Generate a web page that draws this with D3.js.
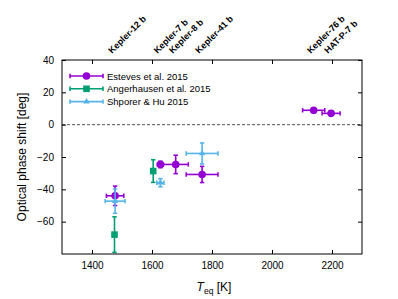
<!DOCTYPE html>
<html>
<head>
<meta charset="utf-8">
<script src="https://cdn.jsdelivr.net/npm/d3@7"></script>
<style>
  body { margin: 0; background: #fff; }
  text { font-family: "Liberation Sans", Arial, sans-serif; }
</style>
</head>
<body>
<script>
// planets named on the top axis
const planets = ["Kepler-12 b", "Kepler-7 b", "Kepler-8 b", "Kepler-41 b", "Kepler-76 b", "HAT-P-7 b"];
const planetTeq = [1477, 1628, 1679, 1767, 2139, 2197];

// Esteves et al. 2015
const estTeq = [1477, 1628, 1679, 1767, 2139, 2197];
const estTeqErr = [29, 10, 42, 53, 37, 30];
const estShift = [-44, -24.6, -24.6, -30.8, 8.9, 7.0];
const estShiftErr = [6, 2, 5.7, 5, 1.5, 1.5];

// Angerhausen et al. 2015
const angTeq = [1475, 1604];
const angTeqErr = [3, 3];
const angShift = [-68, -28.7];
const angShiftErr = [11, 7];

// Shporer & Hu 2015
const shpTeq = [1477, 1628, 1767];
const shpTeqErr = [33, 12, 53];
const shpShift = [-47.3, -35.9, -17.8];
const shpShiftErr = [7.5, 2.5, 6.5];

const xTicks = [1400, 1600, 1800, 2000, 2200];
const yTicks = [-60, -40, -20, 0, 20, 40];

const W = 398, H = 299;
const L = 62, R = 362, T = 60, B = 254;

const x = d3.scaleLinear().domain([1300, 2300]).range([L, R]);
const y = d3.scaleLinear().domain([-80, 40]).range([B, T]);

const svg = d3.select('body').append('svg')
  .attr('width', W)
  .attr('height', H);

// zero line
svg.append('line')
  .attr('x1', L).attr('x2', R)
  .attr('y1', y(0)).attr('y2', y(0))
  .attr('stroke', '#555')
  .attr('stroke-width', 1)
  .attr('stroke-dasharray', '3,2');

const series = [
  {name: 'Esteves et al. 2015', color: '#9400d3', shape: 'circle',
   teq: estTeq, teqErr: estTeqErr, shift: estShift, err: estShiftErr},
  {name: 'Angerhausen et al. 2015', color: '#009e73', shape: 'square',
   teq: angTeq, teqErr: angTeqErr, shift: angShift, err: angShiftErr},
  {name: 'Shporer & Hu 2015', color: '#56b4e9', shape: 'triangle',
   teq: shpTeq, teqErr: shpTeqErr, shift: shpShift, err: shpShiftErr}
];

function marker(g, shape, cx, cy, color) {
  if (shape === 'circle') {
    g.append('circle').attr('cx', cx).attr('cy', cy).attr('r', 3.8).attr('fill', color);
  } else if (shape === 'square') {
    g.append('rect').attr('x', cx - 3.3).attr('y', cy - 3.3)
      .attr('width', 6.6).attr('height', 6.6).attr('fill', color);
  } else {
    g.append('path')
      .attr('d', d3.symbol().type(d3.symbolTriangle).size(18)())
      .attr('transform', `translate(${cx},${cy})`)
      .attr('fill', color);
  }
}

const cap = 2.2;
series.forEach(s => {
  const g = svg.append('g')
    .attr('stroke', s.color)
    .attr('stroke-width', 1.6);
  s.teq.forEach((t, i) => {
    const cx = x(t), cy = y(s.shift[i]);
    const x0 = x(t - s.teqErr[i]), x1 = x(t + s.teqErr[i]);
    const y0 = y(s.shift[i] - s.err[i]), y1 = y(s.shift[i] + s.err[i]);
    g.append('line').attr('x1', x0).attr('x2', x1).attr('y1', cy).attr('y2', cy);
    g.append('line').attr('x1', x0).attr('x2', x0).attr('y1', cy - cap).attr('y2', cy + cap);
    g.append('line').attr('x1', x1).attr('x2', x1).attr('y1', cy - cap).attr('y2', cy + cap);
    g.append('line').attr('x1', cx).attr('x2', cx).attr('y1', y0).attr('y2', y1);
    g.append('line').attr('x1', cx - cap).attr('x2', cx + cap).attr('y1', y0).attr('y2', y0);
    g.append('line').attr('x1', cx - cap).attr('x2', cx + cap).attr('y1', y1).attr('y2', y1);
    marker(svg, s.shape, cx, cy, s.color);
  });
});

// frame
svg.append('rect')
  .attr('x', L).attr('y', T)
  .attr('width', R - L).attr('height', B - T)
  .attr('fill', 'none')
  .attr('stroke', '#000')
  .attr('stroke-width', 1);

// axes with inward ticks
const fmt = d3.format('d');
const axB = svg.append('g').attr('transform', `translate(0,${B})`)
  .call(d3.axisBottom(x).tickValues(xTicks).tickFormat(fmt).tickSizeInner(-4).tickSizeOuter(0).tickPadding(8));
const axT = svg.append('g').attr('transform', `translate(0,${T})`)
  .call(d3.axisTop(x).tickValues(xTicks).tickSizeInner(-4).tickSizeOuter(0).tickFormat(''));
const axL = svg.append('g').attr('transform', `translate(${L},0)`)
  .call(d3.axisLeft(y).tickValues(yTicks).tickFormat(fmt).tickSizeInner(-4).tickSizeOuter(0).tickPadding(8));
const axR = svg.append('g').attr('transform', `translate(${R},0)`)
  .call(d3.axisRight(y).tickValues(yTicks).tickSizeInner(-4).tickSizeOuter(0).tickFormat(''));

[axB, axT, axL, axR].forEach(a => {
  a.select('.domain').remove();
  a.selectAll('text')
    .attr('font-family', '"Liberation Sans", Arial, sans-serif')
    .attr('font-size', 10)
    .attr('fill', '#000');
});

// planet names on top
planets.forEach((p, i) => {
  svg.append('text')
    .attr('transform', `translate(${x(planetTeq[i]) - 3},${T - 6}) rotate(-45)`)
    .attr('font-size', 9)
    .attr('font-weight', 'bold')
    .text(p);
});

// legend
series.forEach((s, i) => {
  const ly = 76 + i * 12.8;
  const g = svg.append('g').attr('stroke', s.color).attr('stroke-width', 1.6);
  g.append('line').attr('x1', 70).attr('x2', 103).attr('y1', ly).attr('y2', ly);
  g.append('line').attr('x1', 70).attr('x2', 70).attr('y1', ly - cap).attr('y2', ly + cap);
  g.append('line').attr('x1', 103).attr('x2', 103).attr('y1', ly - cap).attr('y2', ly + cap);
  marker(svg, s.shape, 86.5, ly, s.color);
  svg.append('text')
    .attr('x', 107).attr('y', ly + 3.5)
    .attr('font-size', 9.5)
    .text(s.name);
});

// axis titles
svg.append('text')
  .attr('transform', `translate(26,${(T + B) / 2}) rotate(-90)`)
  .attr('text-anchor', 'middle')
  .attr('font-size', 12)
  .text('Optical phase shift [deg]');

const xt = svg.append('text')
  .attr('x', (L + R) / 2 + 2)
  .attr('y', 291)
  .attr('text-anchor', 'middle')
  .attr('font-size', 12);
xt.append('tspan').attr('font-style', 'italic').text('T');
xt.append('tspan').attr('font-size', 8.5).attr('dy', 2.5).text('eq');
xt.append('tspan').attr('dy', -2.5).text(' [K]');
</script>
</body>
</html>
